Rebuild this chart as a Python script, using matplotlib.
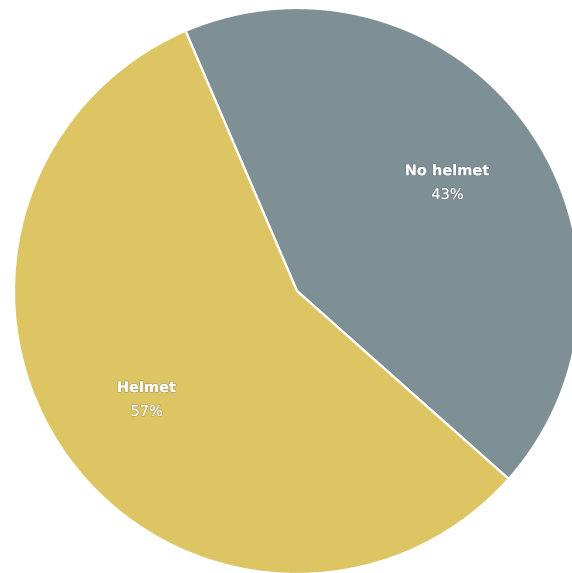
import numpy as np
import matplotlib
matplotlib.use("Agg")
import matplotlib.pyplot as plt
import matplotlib.patheffects as pe

categories = ["No helmet", "Helmet"]
values = [43, 57]
colors = ["#7e9096", "#dcc562"]

W, H = 572, 573
fig = plt.figure(figsize=(W / 100, H / 100), dpi=100)
cx, cy, r = 297, 291, 283
ax = fig.add_axes([(cx - r) / W, (H - cy - r) / H, 2 * r / W, 2 * r / H])

wedges, _ = ax.pie(values, colors=colors, startangle=113.2, counterclock=False,
                   radius=1, wedgeprops=dict(edgecolor="white", linewidth=1.6))
ax.set_aspect("auto")
ax.set_xlim(-1, 1)
ax.set_ylim(-1, 1)
ax.axis("off")

shadow = [pe.withStroke(linewidth=1.2, foreground=(0.3, 0.3, 0.3, 0.25))]
total = sum(values)
for w, cat, v in zip(wedges, categories, values):
    ang = np.deg2rad((w.theta1 + w.theta2) / 2)
    d = 0.655
    x, y = d * np.cos(ang), d * np.sin(ang)
    ax.text(x, y + 0.042, cat, color="white", fontsize=10.5, fontweight="bold",
            ha="center", va="center", path_effects=shadow)
    ax.text(x, y - 0.042, f"{round(100 * v / total)}%", color="white", fontsize=10.5,
            ha="center", va="center", path_effects=shadow)

fig.savefig("out.png", dpi=100, facecolor="white")
